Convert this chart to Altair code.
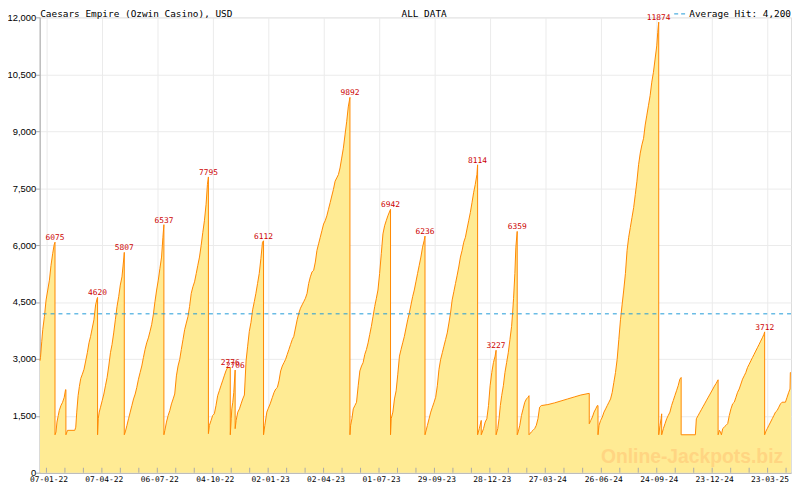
import altair as alt
import pandas as pd

# ---------------- data ----------------
BASE_DATE = "2022-01-07"          # day 0 of the day offsets below
X_START, X_END = "2021-12-27", "2025-04-30"

# jackpot value over time: day offset from BASE_DATE, amount in USD
days = [
    -10.5, -9.7, -7.6, -6.0, -3.3, -0.6, 2.1, 4.8, 7.4, 10.1, 12.5, 13.9, 13.9,
    15.5, 17.1, 19.2, 20.8, 23.5, 26.2, 28.9, 31.0, 31.6, 31.6, 34.2, 46.0, 47.6,
    49.2, 51.4, 53.5, 55.7, 58.3, 61.0, 63.7, 66.4, 69.1, 71.7, 74.4, 77.1, 79.8,
    82.4, 83.0, 83.0,
    84.1, 85.7, 87.8, 90.5, 93.2, 95.8, 98.5, 101.2, 103.9, 106.5, 109.2, 111.9,
    114.6, 117.3, 119.9, 122.6, 124.2, 125.8, 126.4, 126.4,
    128.0, 130.7, 133.3, 136.0, 138.7, 141.4, 144.1, 146.7, 149.4, 152.1, 154.8,
    157.4, 160.1, 162.8, 165.5, 168.2, 170.8, 173.5, 176.2, 178.9, 181.6, 184.2,
    186.9, 189.1, 190.7, 190.7,
    192.3, 194.9, 197.6, 200.3, 203.0, 205.7, 208.3, 211.0, 213.7, 216.4, 219.0,
    221.7, 224.4, 227.1, 229.8, 232.4, 235.1, 237.8, 240.5, 243.2, 245.8, 248.5,
    251.2, 253.9, 256.5, 259.2, 261.4, 263.0, 263.0,
    264.6, 267.3, 269.9, 272.6, 275.3, 278.0, 280.7, 283.3, 286.0, 288.7, 291.4,
    294.0, 298.5, 298.5,
    300.0, 301.0, 302.6, 304.2, 306.4, 306.4,
    308.0, 310.7, 313.4, 316.0, 318.7, 321.4, 324.1, 326.7, 329.4, 332.1, 334.8,
    337.5, 340.1, 342.8, 345.5, 348.2, 350.8, 352.5, 352.5,
    354.6, 357.8, 359.9, 363.2, 366.9, 369.6, 372.3, 375.0, 377.6, 380.3, 383.0,
    385.7, 388.3, 391.0, 393.7, 396.4, 399.1, 401.7, 404.4, 407.1, 409.8, 412.5,
    415.1, 417.8, 420.5, 423.2, 425.8, 428.5, 431.2, 433.9, 436.6, 439.2, 441.9,
    444.6, 447.3, 450.0, 452.6, 455.3, 458.0, 460.7, 463.3, 466.0, 468.7, 471.4,
    474.1, 476.7, 479.4, 482.1, 484.8, 487.5, 490.1, 492.8, 492.8,
    493.9, 496.0, 498.2, 500.8, 503.5, 506.2, 508.9, 511.6, 514.2, 516.9, 519.6,
    522.3, 524.9, 527.6, 530.3, 533.0, 535.7, 538.3, 541.0, 543.7, 546.4, 549.1,
    551.7, 554.4, 558.7, 558.7,
    559.8, 562.5, 565.1, 567.8, 570.5, 573.2, 575.8, 578.5, 581.2, 583.9, 586.6,
    589.2, 591.9, 594.6, 597.3, 599.9, 602.6, 605.3, 608.0, 610.7, 613.3, 614.7,
    614.7,
    618.6, 621.3, 624.0, 626.7, 629.4, 632.0, 634.7, 637.4, 640.1, 642.8, 645.4,
    648.1, 650.8, 653.5, 656.1, 658.8, 661.5, 664.2, 666.9, 669.5, 672.2, 674.9,
    677.6, 680.3, 682.9, 685.6, 688.3, 691.0, 693.6, 696.3, 699.0, 700.1, 700.1,
    702.8, 706.0, 706.0, 709.7, 712.4, 715.1, 717.8, 720.4, 723.1, 725.8, 728.5,
    730.1, 730.1,
    732.8, 734.9, 737.0, 739.2, 741.9, 744.5, 747.2, 749.9, 752.6, 755.3, 756.9,
    758.5, 760.6, 762.2, 764.4, 764.4,
    766.0, 768.6, 771.3, 774.0, 776.7, 779.4, 782.0, 783.6, 783.6, 787.4, 790.1,
    792.7, 795.4, 798.1, 800.8, 803.5, 814.2, 824.9, 835.6, 846.3, 857.0, 867.8,
    881.4, 881.4,
    883.8, 886.5, 889.2, 891.9, 894.5, 895.6, 895.6,
    897.2, 899.9, 902.6, 905.3, 908.0, 910.6, 913.3, 916.0, 918.7, 921.3, 924.0,
    926.7, 929.4, 932.1, 934.7, 937.4, 940.1, 942.8, 945.4, 948.1, 950.8, 953.5,
    956.2, 958.8, 961.5, 964.2, 966.9, 969.6, 972.2, 974.9, 977.6, 980.3, 982.9,
    985.6, 988.3, 991.0, 992.6, 994.2, 994.2,
    996.3, 998.0, 999.0, 999.0, 1001.7, 1004.4, 1007.1, 1009.7, 1012.4, 1015.1,
    1017.8, 1020.4, 1023.1, 1025.8, 1028.5, 1030.6, 1030.6, 1053.7,
    1055.3, 1058.0, 1060.6, 1063.3, 1066.0, 1068.7, 1071.3, 1074.0, 1076.7,
    1079.4, 1082.1, 1084.7, 1087.4, 1090.6, 1090.6,
    1092.8, 1094.4, 1096.0, 1098.1, 1100.8, 1103.5, 1106.2, 1108.8, 1111.5,
    1114.2, 1116.9, 1119.6, 1122.2, 1124.9, 1127.6, 1130.3, 1133.0, 1135.6,
    1138.3, 1141.0, 1143.7, 1146.3, 1149.0, 1151.7, 1154.4, 1157.1, 1159.7,
    1162.4, 1165.1, 1166.2, 1166.2,
    1167.8, 1170.4, 1173.1, 1175.8, 1178.5, 1181.2, 1183.8, 1186.5, 1189.2,
    1191.9, 1194.5, 1199.9, 1202.6, 1205.3, 1207.4, 1207.9, 1208.8,
]
values = [
    2950, 3032, 3465, 3770, 4117, 4553, 4814, 5075, 5466, 5771, 6006, 6075, 1000,
    1074, 1335, 1508, 1639, 1769, 1857, 1988, 2187, 2190, 1000, 1117, 1117, 1200,
    1597, 2030, 2275, 2484, 2596, 2726, 2943, 3162, 3423, 3595, 3814, 4031, 4422,
    4597, 4620, 1000,
    1422, 1597, 1727, 1899, 2074, 2291, 2510, 2813, 3162, 3379, 3684, 4031,
    4378, 4639, 4944, 5161, 5422, 5683, 5807, 1000,
    1074, 1248, 1422, 1597, 1769, 1944, 2074, 2249, 2465, 2640, 2813,
    3032, 3248, 3423, 3553, 3726, 3900, 4161, 4508, 4814, 5075, 5380,
    5683, 6205, 6537, 1000,
    1118, 1335, 1508, 1639, 1813, 1944, 2074, 2552, 2813, 2987, 3248,
    3509, 3770, 3944, 4117, 4378, 4727, 4900, 5030, 5249, 5466, 5683,
    5988, 6335, 6640, 7076, 7597, 7795, 1030,
    1248, 1378, 1508, 1552, 1769, 2030, 2160, 2291, 2421, 2552, 2682,
    2770, 2776, 1000,
    1422, 1683, 1857, 2118, 2706, 1161,
    1378, 1597, 1683, 1813, 1944, 2048, 2943, 3334, 3726, 3961, 4292,
    4508, 4727, 4988, 5249, 5641, 6075, 6112, 1000,
    1248, 1597, 1683, 1813, 1988, 2118, 2205, 2249, 2421, 2682, 2813,
    2901, 2987, 3118, 3248, 3379, 3509, 3595, 3814, 4031, 4205, 4336,
    4422, 4508, 4597, 4727, 4988, 5161, 5291, 5336, 5552, 5857, 6032,
    6205, 6379, 6554, 6640, 6770, 6945, 7117, 7292, 7467, 7683, 7770,
    7858, 8031, 8292, 8552, 8902, 9249, 9640, 9892, 1000,
    1248, 1422, 1683, 1770, 1857, 2291, 2682, 2813, 2901, 3118, 3248,
    3423, 3640, 3857, 4117, 4378, 4597, 4814, 5249, 5771, 6293, 6509,
    6640, 6770, 6942, 1000,
    1422, 1597, 1944, 2160, 2596, 3073, 3248, 3423, 3595, 3814, 4031,
    4205, 4422, 4639, 4814, 5030, 5249, 5466, 5683, 5944, 6118, 6236,
    1000,
    1248, 1422, 1597, 1727, 1857, 1988, 2291, 2726, 2987, 3162, 3334,
    3509, 3684, 3944, 4205, 4553, 4770, 4988, 5205, 5422, 5683, 5857,
    6075, 6205, 6423, 6640, 6857, 7117, 7378, 7597, 7858, 8114, 1000,
    1161, 1378, 1000, 1161, 1335, 1422, 1769, 2291, 2640, 2901, 3073,
    3227, 1000,
    1161, 1422, 1769, 2030, 2291, 2640, 2901, 3162, 3509, 3857, 4205,
    4597, 5249, 5944, 6359, 1000,
    1075, 1248, 1508, 1683, 1857, 1944, 1988, 2030, 1000, 1075, 1118,
    1161, 1248, 1422, 1727, 1769, 1796, 1840, 1892, 1944, 1996, 2048,
    2092, 1291,
    1378, 1466, 1597, 1683, 1769, 1769, 1000,
    1248, 1378, 1466, 1597, 1683, 1769, 1857, 1944, 2118, 2379, 2640,
    2987, 3509, 4031, 4422, 4814, 5249, 5857, 6205, 6465, 6726, 6987,
    7336, 7683, 8118, 8423, 8641, 8813, 9162, 9423, 9684, 9945, 10292,
    10553, 10901, 11250, 11600, 11874, 1000,
    1249, 1423, 1552, 1000, 1161, 1292, 1422, 1510, 1597, 1771,
    1901, 2031, 2160, 2292, 2465, 2510, 1000, 1000,
    1422, 1501, 1580, 1658, 1736, 1815, 1893, 1971, 2049,
    2127, 2206, 2284, 2353, 2449, 1000,
    1119, 1075, 1000, 1162, 1206, 1249, 1293, 1510, 1684,
    1815, 1858, 1988, 2119, 2206, 2336, 2466, 2554, 2640,
    2771, 2857, 2945, 3032, 3118, 3206, 3293, 3380, 3467,
    3554, 3650, 3712, 1000,
    1076, 1162, 1249, 1336, 1423, 1510, 1597, 1640, 1727,
    1814, 1858, 1858, 1988, 2119, 2206, 2640, 2640,
]

# labelled hits
peak_days = [13.9, 83.0, 126.4, 190.7, 263.0, 298.5, 306.4, 352.5, 492.8,
             558.7, 614.7, 700.1, 730.1, 764.4, 994.2, 1166.2]
peak_values = [6075, 4620, 5807, 6537, 7795, 2776, 2706, 6112, 9892,
               6942, 6236, 8114, 3227, 6359, 11874, 3712]

x_tick_dates = ["2022-01-07", "2022-04-07", "2022-07-06", "2022-10-04",
                "2023-01-02", "2023-04-02", "2023-07-01", "2023-09-29",
                "2023-12-28", "2024-03-27", "2024-06-26", "2024-09-24",
                "2024-12-23", "2025-03-23"]
y_tick_values = [0, 1500, 3000, 4500, 6000, 7500, 9000, 10500, 12000]
average_hit = 4200

TITLE = "Caesars Empire (Ozwin Casino), USD"
SUBTITLE = "ALL DATA"
LEGEND = "Average Hit: 4,200"
WATERMARK = "Online-Jackpots.biz"

# ---------------- styling ----------------
W, H = 759, 460
FILL = "#ffeb94"
ORANGE = "#ff8800"
BLUE = "#1f9ad8"
FRAME = "#aaaaaa"
GRID = "#ebebeb"
MONO = "DejaVu Sans Mono"

base = pd.Timestamp(BASE_DATE)


def stamp(ts):
    return ts.strftime("%Y-%m-%dT%H:%M:%S")


def from_days(d):
    return stamp(base + pd.Timedelta(days=d))


def dt(ts):
    return alt.DateTime(year=ts.year, month=ts.month, date=ts.day)


series = pd.DataFrame({
    "date": [from_days(d) for d in days],
    "value": values,
    "idx": list(range(len(days))),
})
peaks = pd.DataFrame({
    "date": [from_days(d) for d in peak_days],
    "value": peak_values,
    "label": [str(v) for v in peak_values],
})

majors = [pd.Timestamp(s) for s in x_tick_dates]
tick_ts = list(majors)
for a, b in zip(majors[:-1], majors[1:]):
    tick_ts += [a + (b - a) / 3, a + 2 * (b - a) / 3]
tick_ts.append(majors[-1] + (majors[-1] - majors[-2]) / 3)
ticks = pd.DataFrame({"date": [stamp(t) for t in tick_ts]})

xscale = alt.Scale(domain=[dt(pd.Timestamp(X_START)), dt(pd.Timestamp(X_END))], nice=False)
yscale = alt.Scale(domain=[0, 12000], nice=False, zero=True)

xaxis = alt.Axis(
    values=[dt(t) for t in majors], format="%d-%m-%y", formatType="time",
    labelFont=MONO, labelFontSize=8, labelColor="#000000", labelPadding=3,
    labelOffset=2, labelFlush=False, labelOverlap=False, ticks=False,
    domainColor=FRAME, grid=True, gridColor=GRID, title=None,
)
yaxis = alt.Axis(
    values=y_tick_values, format=",.0f", formatType="number",
    labelFont="Liberation Sans",
    labelFontSize=9.5, labelColor="#000000", labelPadding=0, tickSize=4,
    tickColor=FRAME, domainColor=FRAME, grid=True, gridColor=GRID, title=None,
    labelFlush=False, labelOverlap=False,
)

area = alt.Chart(series).mark_area(color=FILL, interpolate="linear").encode(
    x=alt.X("date:T", scale=xscale, axis=xaxis),
    y=alt.Y("value:Q", scale=yscale, axis=yaxis, stack=None),
)
line = alt.Chart(series).mark_line(color=ORANGE, strokeWidth=1, interpolate="linear").encode(
    x="date:T", y="value:Q", order="idx:Q",
)
avg = alt.Chart(pd.DataFrame({"avg": [average_hit]})).mark_rule(
    color=BLUE, strokeDash=[4, 4], strokeWidth=1, yOffset=0.5
).encode(y="avg:Q")

tick_rules = alt.Chart(ticks).mark_rule(color=FRAME, strokeWidth=1).encode(
    x="date:T", y=alt.value(H - 5), y2=alt.value(H),
)

peak_labels = alt.Chart(peaks).mark_text(
    font=MONO, fontSize=8, color="#cc0000", baseline="bottom", align="center"
).encode(x="date:T", y="value:Q", text="label:N")

watermark = alt.Chart(pd.DataFrame({"t": [WATERMARK]})).mark_text(
    font="Liberation Sans", fontSize=19.5, fontWeight="bold", color="#ffd27f",
    opacity=0.85, align="center", baseline="alphabetic",
).encode(text="t:N", x=alt.value(659), y=alt.value(450))

title_txt = alt.Chart(pd.DataFrame({"t": [TITLE]})).mark_text(
    font=MONO, fontSize=9.5, color="#000000", align="left", baseline="alphabetic",
).encode(text="t:N", x=alt.value(0.5), y=alt.value(-0.5))

sub_txt = alt.Chart(pd.DataFrame({"t": [SUBTITLE]})).mark_text(
    font=MONO, fontSize=9.5, color="#000000", align="left", baseline="alphabetic",
).encode(text="t:N", x=alt.value(365.5), y=alt.value(-0.5))

legend_txt = alt.Chart(pd.DataFrame({"t": [LEGEND]})).mark_text(
    font=MONO, fontSize=9.5, color="#000000", align="right", baseline="alphabetic",
).encode(text="t:N", x=alt.value(W), y=alt.value(-0.5))

legend_dash = alt.Chart(pd.DataFrame({"t": [LEGEND]})).mark_rule(
    color=BLUE, strokeDash=[4, 3], strokeWidth=1
).encode(x=alt.value(641), x2=alt.value(652), y=alt.value(-3.5))

chart = alt.layer(
    area, line, avg, tick_rules, peak_labels, watermark,
    title_txt, sub_txt, legend_txt, legend_dash,
).properties(
    width=W, height=H,
    padding={"left": 32, "top": 7, "right": 1, "bottom": 15},
    autosize=alt.AutoSizeParams(type="none"),
).configure_view(
    stroke=FRAME, strokeWidth=1
).configure(
    background="#ffffff", font=MONO
)

chart.save("out.html", embed_options={"renderer": "svg", "actions": False})
